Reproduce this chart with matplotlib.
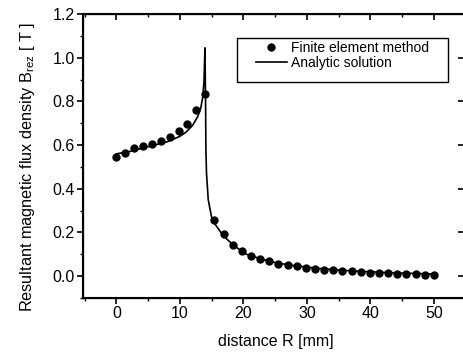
import numpy as np
import matplotlib.pyplot as plt
from matplotlib.patches import Rectangle
from matplotlib.ticker import MultipleLocator, FormatStrFormatter

plt.rcParams['font.family'] = ['Liberation Sans', 'DejaVu Sans']
plt.rcParams['mathtext.fontset'] = 'custom'
plt.rcParams['mathtext.rm'] = 'Liberation Sans'

# Finite element results
fem_r = [0.0, 1.4, 2.8, 4.2, 5.6, 7.0, 8.4, 9.8, 11.2, 12.6, 14.0,
         15.44, 16.88, 18.32, 19.76, 21.2, 22.64, 24.08, 25.52, 26.96,
         28.4, 29.84, 31.28, 32.72, 34.16, 35.6, 37.04, 38.48, 39.92,
         41.36, 42.8, 44.24, 45.68, 47.12, 48.56, 50.0]
fem_b = [0.546, 0.565, 0.588, 0.595, 0.603, 0.620, 0.638, 0.664, 0.695,
         0.761, 0.833,
         0.255, 0.191, 0.143, 0.116, 0.090, 0.079, 0.071, 0.057, 0.050,
         0.045, 0.039, 0.034, 0.030, 0.029, 0.024, 0.022, 0.019, 0.016,
         0.015, 0.013, 0.011, 0.010, 0.008, 0.005, 0.006]

# Analytic solution
ana_r = [0.0, 2.0, 4.0, 6.0, 8.0, 10.0, 11.0, 12.0, 12.8, 13.3, 13.6,
         13.8, 13.95, 14.05, 14.1, 14.2, 14.47, 15.0, 15.5, 16.8, 18.5,
         20.5, 23.0, 25.2, 28.0, 32.0, 36.0, 40.0, 45.0, 50.0]
ana_b = [0.56, 0.57, 0.585, 0.60, 0.615, 0.64, 0.66, 0.69, 0.73, 0.77,
         0.82, 0.89, 1.045, 0.80, 0.58, 0.47, 0.35, 0.27, 0.24, 0.186,
         0.14, 0.10, 0.077, 0.061, 0.048, 0.035, 0.026, 0.020, 0.014, 0.010]

fig = plt.figure(figsize=(4.63, 3.53), dpi=100)
ax = fig.add_axes([0.1793, 0.1558, 0.8229, 0.8045])

ax.plot(fem_r, fem_b, 'o', color='black', markersize=5, label='Finite element method')
ax.plot(ana_r, ana_b, '-', color='black', linewidth=1.2, label='Analytic solution')

ax.set_xlim(-5.25, 54.75)
ax.set_ylim(-0.1, 1.2)
ax.xaxis.set_major_locator(MultipleLocator(10))
ax.xaxis.set_minor_locator(MultipleLocator(5))
ax.yaxis.set_major_locator(MultipleLocator(0.2))
ax.yaxis.set_minor_locator(MultipleLocator(0.1))
ax.yaxis.set_major_formatter(FormatStrFormatter('%.1f'))

for s in ax.spines.values():
    s.set_linewidth(1.5)

ax.tick_params(which='major', direction='out', length=4, width=1.2,
               labelsize=11.5, pad=2)
ax.tick_params(which='minor', direction='out', length=2.5, width=1.0)

# mirrored ticks on top and right point inward
ax2 = ax.twiny()
ax2.set_xlim(ax.get_xlim())
ax2.xaxis.set_major_locator(MultipleLocator(10))
ax2.xaxis.set_minor_locator(MultipleLocator(5))
ax2.tick_params(which='major', direction='in', length=4, width=1.2, labeltop=False)
ax2.tick_params(which='minor', direction='in', length=2.5, width=1.0)
ax3 = ax.twinx()
ax3.set_ylim(ax.get_ylim())
ax3.yaxis.set_major_locator(MultipleLocator(0.2))
ax3.yaxis.set_minor_locator(plt.NullLocator())
ax3.tick_params(which='major', direction='in', length=4, width=1.2, labelright=False)

ax.set_xlabel('distance R [mm]', fontsize=11.5)
ax.xaxis.set_label_coords(0.506, -0.128)
ax.set_ylabel(r'Resultant magnetic flux density B$_{\mathregular{rez}}$ [ T ]',
              fontsize=11.7)
ax.yaxis.set_label_coords(-0.121, 0.463)

leg = ax.legend(loc='upper left', bbox_to_anchor=(0.454, 0.905), fontsize=10,
                frameon=False, handlelength=2.2, handletextpad=0.3,
                labelspacing=0.05, borderpad=0, borderaxespad=0, numpoints=1)
leg.set_zorder(6)

# legend frame
ax.add_patch(Rectangle((0.404, 0.7606), 0.554, 0.155, transform=ax.transAxes,
                       fill=True, facecolor='white', edgecolor='black',
                       linewidth=1.0, zorder=5))

fig.savefig('out.png', dpi=100)
